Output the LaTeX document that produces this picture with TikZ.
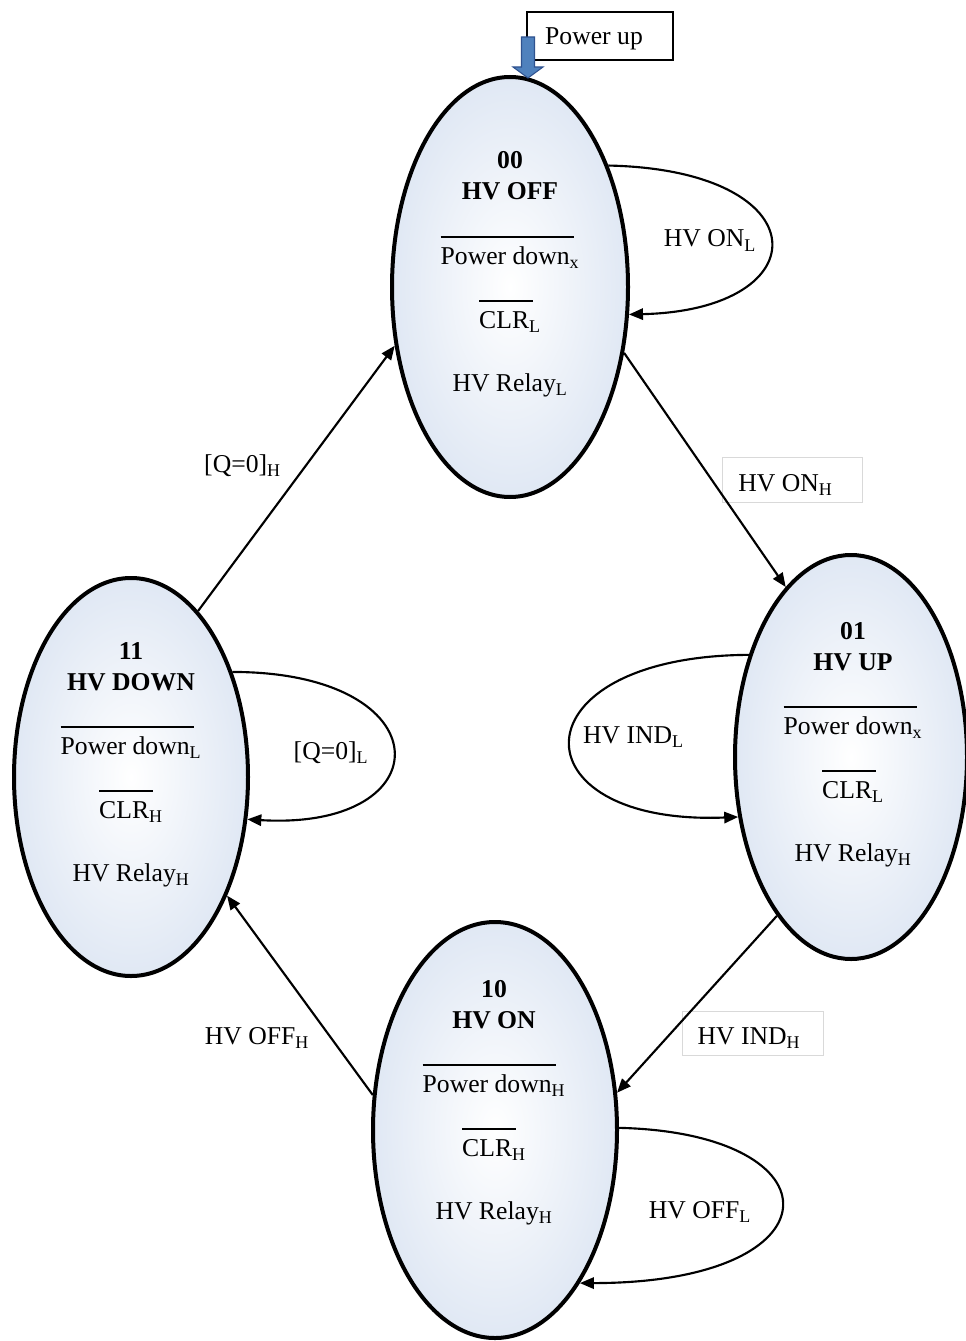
\documentclass[tikz,border=0pt]{standalone}
\usepackage{fontspec}
\setmainfont{Liberation Serif}
\usetikzlibrary{arrows.meta,shapes.geometric,calc}
\definecolor{ellout}{RGB}{224,232,244}
\definecolor{pufill}{RGB}{79,129,189}
\definecolor{puedge}{RGB}{47,82,143}
\definecolor{boxgray}{RGB}{217,217,217}
\newcommand\barred[2]{%
  \setbox0=\hbox{#1}%
  \rlap{\smash{\rule[19.5pt]{\dimexpr\wd0+3pt\relax}{1.5pt}}}\box0\textsubscript{#2}}
\newcommand\stlines[8]{%
  \node[stitle] (#1a) at (#2,#3-118) {#4};
  \node[stitle] (#1b) at (#2,#3-87) {#5};
  \node[sl] (#1c) at (#2,#3-23) {\barred{Power down}{#6}};
  \node[sl] (#1d) at (#2,#3+41) {\barred{CLR}{#7}};
  \node[sl] (#1e) at (#2,#3+104) {HV Relay\textsubscript{#8}};
}
\tikzset{
  state/.style={ellipse, draw, line width=3pt, shading=radial, inner color=white, outer color=ellout, inner sep=0pt},
  sl/.style={font=\fontsize{19.25}{22}\selectfont, anchor=base, inner sep=0pt},
  stitle/.style={sl, font=\fontsize{19.25}{22}\selectfont\bfseries},
  conn/.style={line width=1.6pt, -{Triangle[length=10.5pt,width=8.5pt]}},
  lab/.style={font=\fontsize{19.25}{22}\selectfont, anchor=base, inner sep=0pt},
  lbox/.style={draw=boxgray, line width=0.6pt, fill=white, inner sep=0pt},
}
\begin{document}
\begin{tikzpicture}[x=0.75pt,y=-0.75pt]
\useasboundingbox (0,0) rectangle (965,1341);
% states
\node[state, minimum width=177pt, minimum height=315pt] (s00) at (510,287) {};
\node[state, minimum width=174pt, minimum height=303pt] (s01) at (851,757) {};
\node[state, minimum width=175.5pt, minimum height=298.5pt] (s11) at (131,777) {};
\node[state, minimum width=183pt, minimum height=312pt] (s10) at (495,1130) {};
\stlines{t00}{510}{287}{00}{HV OFF}{x}{L}{L}
\stlines{t01}{853}{757}{01}{HV UP}{x}{L}{H}
\stlines{t11}{131}{777}{11}{HV DOWN}{L}{H}{H}
\stlines{t10}{494}{1115}{10}{HV ON}{H}{H}{H}
% boxes
\node[lbox, minimum width=105pt, minimum height=33.75pt] (bonh) at (792,479.5) {};
\node[lbox, minimum width=105.75pt, minimum height=33pt] (bindh) at (752.5,1033) {};
\node[draw=black, line width=1.1pt, fill=white, inner sep=0pt, minimum width=109.5pt, minimum height=36pt] (bpu) at (600,36) {};
% labels
\node[lab] (lpu) at (594,45) {Power up};
\node[lab] (lonl) at (710,247) {HV ON\textsubscript{L}};
\node[lab] (lonh) at (785.5,491) {HV ON\textsubscript{H}};
\node[lab] (lqh) at (242.5,472) {[Q=0]\textsubscript{H}};
\node[lab] (lql) at (331,759) {[Q=0]\textsubscript{L}};
\node[lab] (lindl) at (633.5,743) {HV IND\textsubscript{L}};
\node[lab] (lindh) at (749,1044) {HV IND\textsubscript{H}};
\node[lab] (loffh) at (257,1044) {HV OFF\textsubscript{H}};
\node[lab] (loffl) at (700,1218) {HV OFF\textsubscript{L}};
% transitions
\draw[conn] (s11.68) -- (s00.207);
\draw[conn] (s00.-30) -- (s01.111);
\draw[conn] (s01.245) -- (s10.17);
\draw[conn] (s10.164) -- (s11.-51);
% self loops
\draw[conn] (s00.51) .. controls (821,170) and (821,310) .. (s00.-13);
\draw[conn] (s01.135) .. controls (513,656) and (513,826) .. (s01.208);
\draw[conn] (s11.46) .. controls (444,672) and (444,831) .. (s11.-20);
\draw[conn] (s10.1) .. controls (842,1133) and (842,1283) .. (s10.-61);
% power up arrow
\coordinate (putip) at (528,78);
\draw[fill=pufill, draw=puedge, line width=0.8pt]
  ($(putip)+(-6.5,-41)$) -- ($(putip)+(6.5,-41)$) -- ($(putip)+(6.5,-11)$) -- ($(putip)+(15,-11)$)
  -- (putip) -- ($(putip)+(-15,-11)$) -- ($(putip)+(-6.5,-11)$) -- cycle;
\end{tikzpicture}
\end{document}
